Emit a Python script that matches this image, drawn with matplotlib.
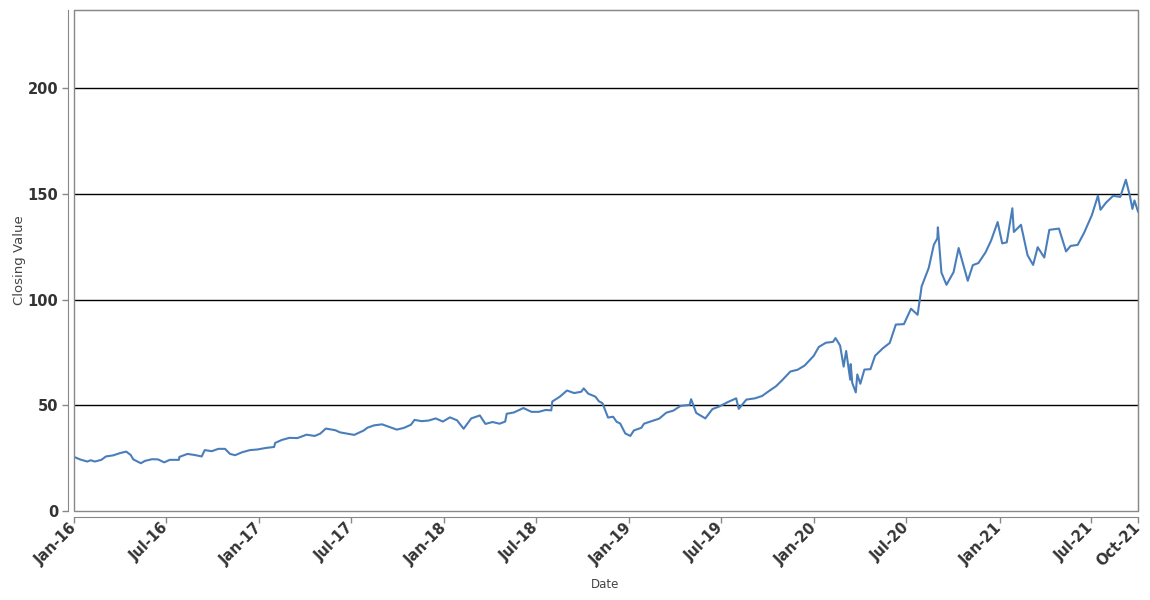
import matplotlib
matplotlib.use("Agg")
import matplotlib.pyplot as plt
from matplotlib.patches import Rectangle
import pandas as pd

dates = [
    "2016-01-04","2016-01-13","2016-01-27","2016-02-03","2016-02-11","2016-02-24","2016-03-04","2016-03-18",
    "2016-04-01","2016-04-13","2016-04-22","2016-04-27","2016-05-12","2016-05-20","2016-06-03","2016-06-15",
    "2016-06-27","2016-07-08","2016-07-26","2016-07-27","2016-08-12","2016-08-26","2016-09-09","2016-09-15",
    "2016-09-29","2016-10-12","2016-10-25","2016-11-04","2016-11-14","2016-11-28","2016-12-13","2016-12-28",
    "2017-01-13","2017-01-30","2017-02-01","2017-02-14","2017-03-01","2017-03-17","2017-04-04","2017-04-20",
    "2017-05-01","2017-05-12","2017-05-31","2017-06-09","2017-06-23","2017-07-07","2017-07-26","2017-08-02",
    "2017-08-15","2017-08-31","2017-09-15","2017-09-29","2017-10-13","2017-10-27","2017-11-03","2017-11-17",
    "2017-12-01","2017-12-15","2017-12-29","2018-01-12","2018-01-26","2018-02-08","2018-02-23","2018-03-12",
    "2018-03-23","2018-04-06","2018-04-20","2018-05-01","2018-05-04","2018-05-18","2018-06-06","2018-06-22",
    "2018-07-06","2018-07-20","2018-07-31","2018-08-02","2018-08-17","2018-08-31","2018-09-14","2018-09-28",
    "2018-10-03","2018-10-12","2018-10-26","2018-11-02","2018-11-09","2018-11-20","2018-11-30","2018-12-07",
    "2018-12-14","2018-12-24","2019-01-03","2019-01-10","2019-01-25","2019-01-30","2019-02-15","2019-03-01",
    "2019-03-15","2019-03-29","2019-04-12","2019-04-30","2019-05-03","2019-05-13","2019-05-31","2019-06-14",
    "2019-06-28","2019-07-15","2019-07-31","2019-08-05","2019-08-20","2019-09-06","2019-09-20","2019-10-04",
    "2019-10-18","2019-10-31","2019-11-15","2019-11-29","2019-12-13","2019-12-31","2020-01-10","2020-01-24",
    "2020-02-07","2020-02-12","2020-02-21","2020-02-28","2020-03-04","2020-03-12","2020-03-13","2020-03-16",
    "2020-03-23","2020-03-26","2020-04-01","2020-04-09","2020-04-21","2020-04-30","2020-05-15","2020-05-29",
    "2020-06-10","2020-06-26","2020-07-10","2020-07-23","2020-07-31","2020-08-14","2020-08-24","2020-08-31",
    "2020-09-01","2020-09-08","2020-09-18","2020-10-02","2020-10-12","2020-10-30","2020-11-09","2020-11-20",
    "2020-12-04","2020-12-15","2020-12-28","2021-01-06","2021-01-15","2021-01-26","2021-01-29","2021-02-12",
    "2021-02-25","2021-03-08","2021-03-17","2021-03-30","2021-04-09","2021-04-28","2021-05-12","2021-05-21",
    "2021-06-04","2021-06-17","2021-07-02","2021-07-14","2021-07-19","2021-07-30","2021-08-13","2021-08-27",
    "2021-09-07","2021-09-15","2021-09-20","2021-09-24","2021-10-01",
]
closing = [
    25.3, 24.4, 23.4, 24.0, 23.4, 24.2, 25.8, 26.3,
    27.4, 28.1, 26.5, 24.4, 22.6, 23.7, 24.5, 24.4,
    23.0, 24.2, 24.2, 25.6, 27.0, 26.5, 25.8, 28.8,
    28.3, 29.4, 29.4, 27.0, 26.4, 27.8, 28.8, 29.1,
    29.8, 30.3, 32.2, 33.6, 34.6, 34.5, 36.1, 35.5,
    36.6, 39.0, 38.2, 37.2, 36.6, 36.0, 38.1, 39.4,
    40.5, 41.0, 39.7, 38.5, 39.3, 40.8, 43.1, 42.5,
    42.8, 43.8, 42.3, 44.3, 42.9, 38.9, 43.8, 45.2,
    41.2, 42.1, 41.3, 42.3, 46.0, 46.6, 48.7, 46.9,
    46.9, 47.8, 47.6, 51.8, 54.1, 57.0, 55.8, 56.4,
    58.0, 55.5, 54.1, 51.9, 51.0, 44.2, 44.6, 42.2,
    41.4, 36.7, 35.5, 38.1, 39.4, 41.3, 42.6, 43.7,
    46.5, 47.5, 49.7, 50.2, 52.9, 46.4, 43.8, 48.2,
    49.5, 51.6, 53.3, 48.3, 52.7, 53.3, 54.4, 56.8,
    59.1, 62.2, 66.0, 66.8, 68.8, 73.4, 77.6, 79.6,
    80.0, 81.8, 78.3, 68.3, 75.7, 62.1, 69.5, 60.6,
    56.1, 64.6, 60.2, 66.9, 67.1, 73.4, 76.9, 79.5,
    88.2, 88.4, 95.7, 92.8, 106.3, 115.0, 125.9, 129.0,
    134.2, 112.8, 107.0, 113.0, 124.4, 108.9, 116.3, 117.3,
    122.3, 127.9, 136.7, 126.6, 127.1, 143.2, 132.0, 135.4,
    121.0, 116.4, 124.8, 119.9, 133.0, 133.6, 122.8, 125.4,
    125.9, 131.8, 140.0, 149.2, 142.5, 145.9, 149.1, 148.6,
    156.7, 149.0, 142.9, 146.9, 141.7,
]
tick_dates = ["2016-01-01","2016-07-01","2017-01-01","2017-07-01","2018-01-01","2018-07-01",
              "2019-01-01","2019-07-01","2020-01-01","2020-07-01","2021-01-01","2021-07-01","2021-10-01"]
tick_labels = ["Jan-16","Jul-16","Jan-17","Jul-17","Jan-18","Jul-18",
               "Jan-19","Jul-19","Jan-20","Jul-20","Jan-21","Jul-21","Oct-21"]
y_ticks = [0, 50, 100, 150, 200]

x = pd.to_datetime(dates)
fig = plt.figure(figsize=(11.5, 6), dpi=100)
ax = fig.add_axes([74/1150, 89/600, 1064/1150, 501/600])

ax.plot(x, closing, color="#4a7ebb", lw=1.5, zorder=3)

for v in y_ticks[1:]:
    ax.axhline(v, color="black", lw=1.0, zorder=2)

ax.set_ylim(0, 237)
ax.set_xlim(pd.Timestamp("2016-01-01"), pd.Timestamp("2021-10-01"))
ax.set_yticks(y_ticks)
ax.set_yticklabels([str(v) for v in y_ticks])
ax.set_xticks(pd.to_datetime(tick_dates))
ax.set_xticklabels(tick_labels)

for s in ["top", "right"]:
    ax.spines[s].set_color("#888888")
for s in ["left", "bottom"]:
    ax.spines[s].set_color("#888888")
    ax.spines[s].set_position(("outward", 4))
ax.add_patch(Rectangle((0, 0), 1, 1, transform=ax.transAxes, fill=False,
                       edgecolor="#888888", lw=1.0, zorder=4, clip_on=False))

ax.tick_params(axis="both", colors="#888888", length=4, width=1,
               labelcolor="#333333", labelsize=10.5)
ax.tick_params(axis="x", pad=2.5)
for lab in ax.get_xticklabels():
    lab.set_rotation(45)
    lab.set_ha("right")
    lab.set_va("center")
    lab.set_rotation_mode("anchor")
    lab.set_fontweight("bold")
for lab in ax.get_yticklabels():
    lab.set_fontweight("bold")

fig.text(20/1150, 1 - 260/600, "Closing Value", rotation=90, ha="center", va="center",
         fontsize=9.5, color="#444444")
fig.text(605/1150, 1 - 585/600, "Date", ha="center", va="center",
         fontsize=8.5, color="#444444")

fig.savefig("out.png", dpi=100)
